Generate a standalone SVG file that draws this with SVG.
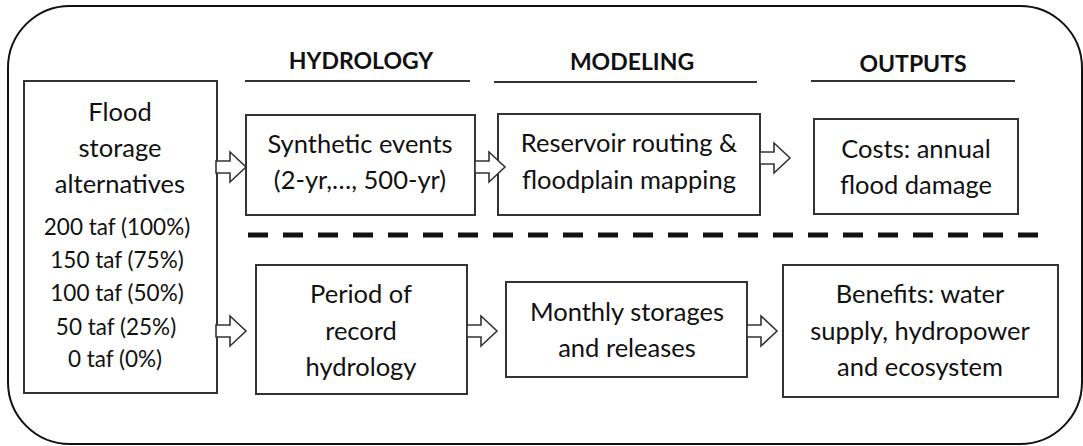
<svg xmlns="http://www.w3.org/2000/svg" xmlns:xlink="http://www.w3.org/1999/xlink" width="1083" height="446" viewBox="0 0 1083 446">
<style>
.box{fill:#fff;stroke:#333;stroke-width:2}
.t{font-family:Lato,"Open Sans",sans-serif;font-size:25.5px;fill:#111;text-anchor:middle}
.s{font-family:Lato,"Open Sans",sans-serif;font-size:22.5px;fill:#111;text-anchor:middle}
.h{font-family:Lato,"Open Sans",sans-serif;font-size:23px;font-weight:bold;fill:#111;text-anchor:middle}
.ul{stroke:#333;stroke-width:2}
.arr{fill:#fff;stroke:#333;stroke-width:1.6;stroke-linejoin:miter}
</style>
<defs>
<path id="ba" d="M0,-6 H14 V-15 L30,0 L14,15 V6 H0 Z"/>
</defs>
<rect x="0" y="0" width="1083" height="446" fill="#fff"/>
<rect id="frame" x="8" y="6" width="1074" height="438" rx="62" ry="62" fill="none" stroke="#111" stroke-width="2"/>
<g id="headers">
<text class="h" x="361" y="69">HYDROLOGY</text>
<line class="ul" x1="245" y1="81" x2="470" y2="81"/>
<text class="h" x="632" y="70">MODELING</text>
<line class="ul" x1="494" y1="82" x2="757" y2="82"/>
<text class="h" x="913" y="72">OUTPUTS</text>
<line class="ul" x1="811" y1="81" x2="1015" y2="81"/>
</g>
<line id="divider" x1="248" y1="235" x2="1048" y2="235" stroke="#111" stroke-width="5" stroke-dasharray="20 15"/>
<g id="alternatives">
<rect class="box" x="24" y="81" width="193" height="312"/>
<text class="t" x="120" y="121">Flood</text>
<text class="t" x="120" y="157">storage</text>
<text class="t" x="120" y="193">alternatives</text>
<text class="s" x="117" y="235">200 taf (100%)</text>
<text class="s" x="117" y="268">150 taf (75%)</text>
<text class="s" x="117" y="301">100 taf (50%)</text>
<text class="s" x="116" y="335">50 taf (25%)</text>
<text class="s" x="115" y="367">0 taf (0%)</text>
</g>
<g id="synthetic">
<rect class="box" x="246" y="115" width="229" height="100"/>
<text class="t" x="360" y="153">Synthetic events</text>
<text class="t" x="360" y="189">(2-yr,…, 500-yr)</text>
</g>
<g id="reservoir">
<rect class="box" x="498" y="114" width="262" height="101"/>
<text class="t" x="629" y="152">Reservoir routing &amp;</text>
<text class="t" x="629" y="189">floodplain mapping</text>
</g>
<g id="costs">
<rect class="box" x="814" y="119" width="204" height="95"/>
<text class="t" x="916" y="158">Costs: annual</text>
<text class="t" x="916" y="194">flood damage</text>
</g>
<g id="period">
<rect class="box" x="256" y="265" width="211" height="129"/>
<text class="t" x="361" y="303">Period of</text>
<text class="t" x="361" y="340">record</text>
<text class="t" x="361" y="376">hydrology</text>
</g>
<g id="monthly">
<rect class="box" x="506" y="282" width="241" height="95"/>
<text class="t" x="627" y="321">Monthly storages</text>
<text class="t" x="627" y="357">and releases</text>
</g>
<g id="benefits">
<rect class="box" x="783" y="265" width="275" height="132"/>
<text class="t" x="920" y="303">Benefits: water</text>
<text class="t" x="920" y="340">supply, hydropower</text>
<text class="t" x="920" y="376">and ecosystem</text>
</g>
<g id="connectors">
<use xlink:href="#ba" class="arr" transform="translate(216,167)"/>
<use xlink:href="#ba" class="arr" transform="translate(475,167)"/>
<use xlink:href="#ba" class="arr" transform="translate(760,158)"/>
<use xlink:href="#ba" class="arr" transform="translate(216,331)"/>
<use xlink:href="#ba" class="arr" transform="translate(467,331)"/>
<use xlink:href="#ba" class="arr" transform="translate(747,331)"/>
</g>
</svg>
